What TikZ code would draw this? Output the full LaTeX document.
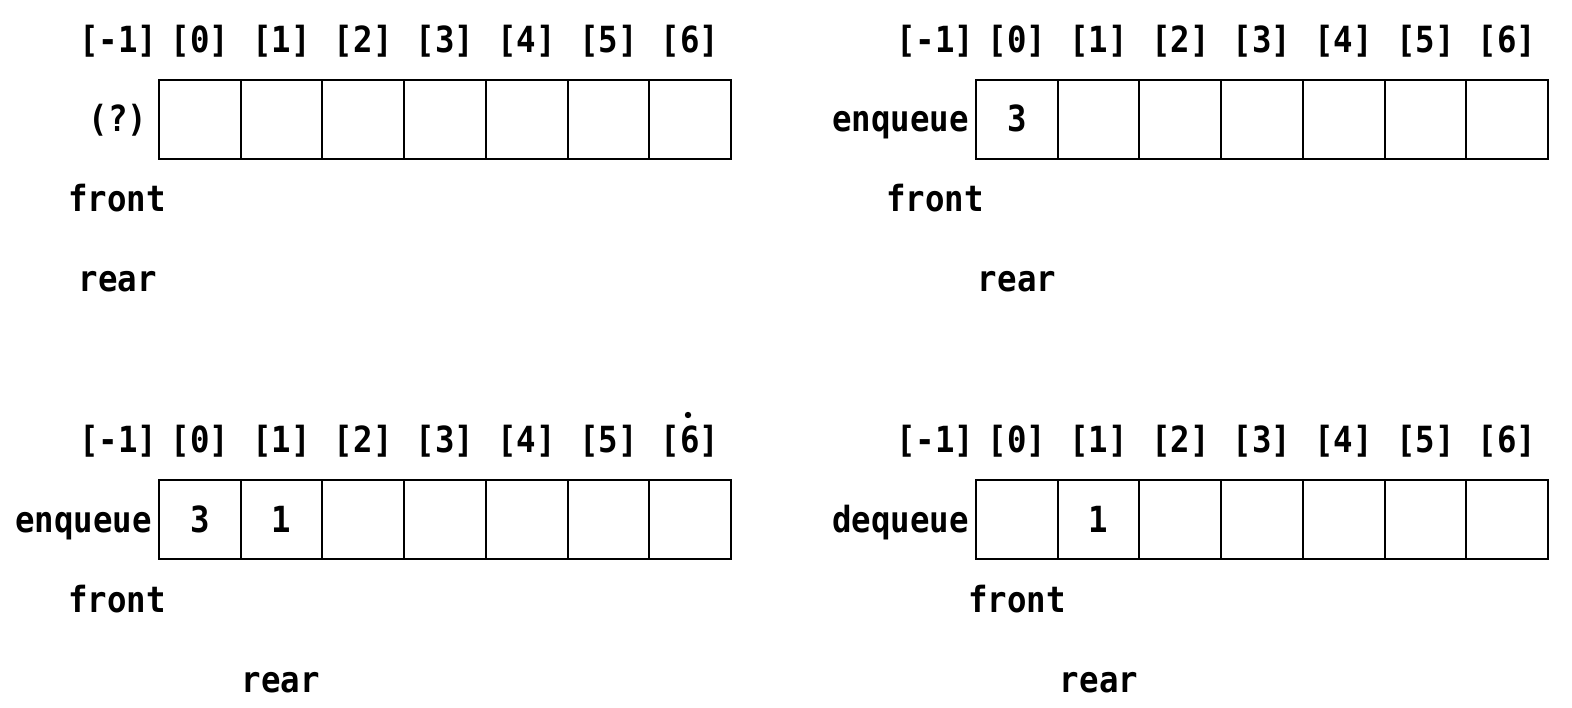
\documentclass[tikz,border=0pt]{standalone}
\usepackage{fontspec}
\newfontfamily\labelfont[FakeStretch=0.9]{DejaVu Sans Mono}
\begin{document}
\begin{tikzpicture}[x=1pt,y=-1pt,
  txt/.style={font=\labelfont\fontsize{36}{42}\selectfont\bfseries, inner sep=0pt, anchor=base},
  cell/.style={draw, line width=2pt, minimum width=81.7pt, minimum height=79pt, inner sep=0pt, outer sep=0pt},
]
\useasboundingbox (0,0) rectangle (1572,708);
% panels
\foreach \P/\X/\Y in {A/159/80, B/976/80, C/159/480, D/976/480}{
  \begin{scope}[shift={(\X,\Y)}]
    \foreach \k in {0,...,6}{
      \node[cell] (\P c\k) at ({40.85+81.7*\k},39.5) {};
    }
    \foreach \k in {-1,...,6}{
      \node[txt] (\P i\k) at ({40.85+81.7*\k},-27) {[\k]};
    }
  \end{scope}
}
% panel A
\node[txt] (Aop) at (118,132) {(?)};
\node[txt] (Afront) at (117,212) {front};
\node[txt] (Arear) at (118,292) {rear};
% panel B
\node[txt, anchor=base east] (Bop) at (969,132) {enqueue};
\node[txt] (Bv0) at ([yshift=-12.5pt]Bc0) {3};
\node[txt] (Bfront) at (935,212) {front};
\node[txt] (Brear) at (1017,292) {rear};
% panel C
\node[txt, anchor=base east] (Cop) at (152,532) {enqueue};
\node[txt] (Cv0) at ([yshift=-13pt]Cc0) {3};
\node[txt] (Cv1) at ([yshift=-13pt]Cc1) {1};
\node[txt] (Cfront) at (117,612) {front};
\node[txt] (Crear) at (281,692) {rear};
\fill (688,415) circle (3.2pt);
% panel D
\node[txt, anchor=base east] (Dop) at (969,532) {dequeue};
\node[txt] (Dv1) at ([yshift=-13pt]Dc1) {1};
\node[txt] (Dfront) at (1017,612) {front};
\node[txt] (Drear) at (1099,692) {rear};
\end{tikzpicture}
\end{document}
